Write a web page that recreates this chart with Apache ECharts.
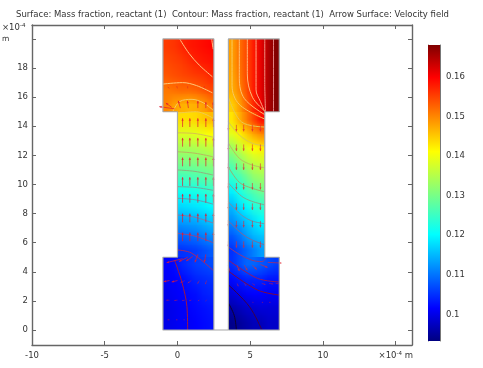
<!DOCTYPE html>
<html><head><meta charset="utf-8">
<style>html,body{margin:0;padding:0;background:#fff}#c{width:483px;height:368px}</style>
<script src="https://cdn.jsdelivr.net/npm/echarts@6/dist/echarts.min.js"></script>
</head><body><div id="c"></div>
<script>
const titleText = 'Surface: Mass fraction, reactant (1)  Contour: Mass fraction, reactant (1)  Arrow Surface: Velocity field';
const xTicks = [-10, -5, 0, 5, 10, 15];
const yTicks = [0, 2, 4, 6, 8, 10, 12, 14, 16, 18, 20];
const barTicks = [0.1, 0.11, 0.12, 0.13, 0.14, 0.15, 0.16];
const barMin = 0.0933, barMax = 0.168;

// Surface values, one row per unit of height, top row first
const leftTop = [
 [.1555,.156,.157,.158,.1585,.159,.1595],
 [.1545,.155,.1555,.1565,.1575,.158,.1585],
 [.1535,.154,.1545,.155,.1555,.156,.157],
 [.151,.1515,.152,.152,.1525,.1535,.1545],
 [.15,.148,.147,.1465,.147,.148,.15]];
const leftChannel = [
 [.1435,.1435,.144,.145,.146],
 [.1385,.1385,.139,.14,.141],
 [.134,.134,.1345,.135,.136],
 [.13,.13,.1305,.131,.132],
 [.1255,.126,.1265,.127,.128],
 [.121,.1215,.122,.123,.124],
 [.1175,.118,.1185,.119,.12],
 [.113,.1135,.114,.115,.116],
 [.109,.1095,.11,.111,.112],
 [.105,.1055,.106,.107,.108]];
const leftBottom = [
 [.1015,.102,.104,.105,.106,.1065,.107],
 [.101,.1015,.102,.103,.104,.1045,.105],
 [.1005,.101,.1015,.102,.1025,.1035,.104],
 [.1,.1005,.101,.1015,.102,.1025,.103],
 [.1,.1005,.101,.101,.1015,.102,.1025]];
const rightTop = [
 [.148,.1515,.1545,.158,.1615,.165,.168],
 [.148,.1515,.1545,.158,.1615,.165,.168],
 [.1475,.151,.1545,.158,.1615,.165,.168],
 [.147,.15,.154,.158,.1615,.165,.168],
 [.1445,.148,.1525,.157,.161,.165,.168]];
const rightChannel = [
 [.143,.147,.151,.155,.159],
 [.139,.142,.145,.148,.15],
 [.133,.136,.139,.141,.142],
 [.128,.131,.134,.136,.137],
 [.124,.126,.129,.132,.133],
 [.119,.122,.125,.127,.129],
 [.115,.118,.12,.123,.124],
 [.112,.114,.116,.118,.12],
 [.108,.11,.113,.115,.116],
 [.105,.107,.109,.111,.113]];
const rightBottom = [
 [.105,.107,.109,.109,.108,.107,.106],
 [.102,.103,.104,.104,.104,.103,.103],
 [.099,.1,.101,.1015,.1015,.101,.101],
 [.096,.097,.098,.0985,.099,.099,.099],
 [.094,.095,.096,.097,.097,.098,.098]];

// Contour lines: [x, y] in units of 1e-4 m, with their colours
const contours = [
 [[.15,20],[.8,19],[1.5,18.2],[2.4,17.4]],
 [[2.35,20],[2.45,19.3]],
 [[-1,16.9],[.35,17],[1.3,16.8],[2.4,16.3]],
 [[-.3,15.05],[.15,15.7],[1,15.85],[1.8,15.6],[2.45,15.1]],
 [[0,14.9],[1.3,15],[2.45,14.55]],
 [[0,13.55],[1.2,13.5],[2.45,13.25]],
 [[0,12.25],[1.2,12.15],[2.45,11.9]],
 [[0,11],[1.2,10.9],[2.45,10.65]],
 [[0,9.85],[1.2,9.8],[2.45,9.6]],
 [[0,9.05],[1.2,8.95],[2.45,8.65]],
 [[0,7.9],[1.2,7.75],[2.45,7.35]],
 [[0,6.65],[1.2,6.45],[2.45,6]],
 [[0,5.5],[.96,5.29],[2.45,4.1]],
 [[-.2,4.8],[.3,3.3],[.65,1.6],[.7,0]],
 [[6.6,20],[6.6,15]],
 [[6,20],[6,17],[6.05,15]],
 [[5.4,20],[5.4,16.5],[5.7,15.7],[6,15]],
 [[4.8,20],[4.8,17.6],[5.15,16],[6,15.05]],
 [[4.25,20],[4.25,17.3],[4.6,15.9],[6,14.8]],
 [[3.75,20],[3.75,16.8],[4.25,15.5],[6,14.5]],
 [[3.5,16],[4.4,14.3],[6,13.95]],
 [[3.5,14.3],[4.25,13.4],[5.1,12.85],[6,12.65]],
 [[3.5,12.85],[4.25,11.8],[5.1,11.35],[6,11.15]],
 [[3.5,11.2],[4.25,10.15],[5.1,9.75],[6,9.5]],
 [[3.5,10.1],[4.4,9.2],[5.1,8.85],[6,8.6]],
 [[3.5,8.8],[4.4,7.9],[5.1,7.5],[6,7.3]],
 [[3.5,7.5],[4.45,6.6],[5.1,6.2],[6,5.85]],
 [[3.5,5.7],[4.25,5.2],[5.1,4.8],[5.8,4.7],[6.1,4.95]],
 [[3.5,4.8],[5.5,3.55],[7,3.3]],
 [[3.5,4.05],[5.5,2.75],[7,2.4]],
 [[3.5,3.1],[4.95,1.6],[5.8,0]],
 [[3.5,1.85],[3.9,1],[4.05,0]]
];
const contourColors = [
 '#ffc080','#ffc080','#ffc878','#f8c860','#f0c850','#d8c050','#b8b860','#90b080','#70a8a0','#6898b0',
 '#8078a8','#904890','#a02870','#a01840',
 '#e08080','#f09080','#ffa880','#ffb878','#ffc070','#f8c860','#e8c850','#d8c850','#b8c060','#98b070',
 '#80a890','#7090a8','#806898','#903880','#981860','#800840','#400040','#100030'
];

// Arrows, as parallel lists: tail x, tail y, x component, y component
const arrowX = [
 .35,.85,1.4,1.95,2.47, .35,.85,1.4,1.95,2.47, .35,.85,1.4,1.95,2.47, .35,.85,1.4,1.95,2.47,
 .35,.85,1.4,1.95,2.47, .35,.85,1.4,1.95,2.47, .35,.85,1.4,1.95,2.47,
 3.5,4.05,4.55,5.15,5.7, 3.5,4.05,4.55,5.15,5.7, 3.5,4.05,4.55,5.15,5.7, 3.5,4.05,4.55,5.15,5.7,
 3.5,4.05,4.55,5.15,5.7, 3.5,4.05,4.55,5.15,5.7, 3.5,4.05,4.55,5.15,5.7,
 -.2,-.4,.2,.75,1.4,1.95,2.45, -.55,0,.7,1.85,
 .35,.7,1.05,1.4,1.95, -.55,0,.5,.95,1.5,2, -.55,0,.5,.95,1.5,2, -.55,0,.5,
 3.5,4.1,4.6,5.15,5.7,6.2, 4.1,4.6,5.15,5.8,6.3,6.75, 5.15,5.8,6.3];
const arrowY = [
 13.95,13.95,13.95,13.95,13.95, 12.6,12.6,12.6,12.6,12.6, 11.25,11.25,11.25,11.25,11.25, 9.9,9.9,9.9,9.9,9.9,
 8.75,8.75,8.75,8.75,8.75, 7.4,7.4,7.4,7.4,7.4, 6.1,6.1,6.1,6.1,6.1,
 14.1,14.1,14.1,14.1,14.1, 12.75,12.75,12.75,12.75,12.75, 11.45,11.45,11.45,11.45,11.45, 10.1,10.1,10.1,10.1,10.1,
 8.7,8.7,8.7,8.7,8.7, 7.5,7.5,7.5,7.5,7.5, 6.1,6.1,6.1,6.1,6.1,
 15.2,15.3,15.25,15.25,15.25,15.25,15.25, 16.6,16.6,16.6,16.6,
 4.9,5,5.05,5.2,5.2, 3.4,3.4,3.4,3.4,3.4,3.4, 2.05,2.05,2.05,2.05,2.05,2.05, .7,.7,.7,
 4.45,4.45,4.45,4.45,4.5,4.65, 3.2,3.2,3.2,3.2,3.2,3.2, 1.9,1.9,1.9];
const arrowU = [
 0,0,0,0,0, 0,0,0,0,0, 0,0,0,0,0, 0,0,0,0,0, 0,0,0,0,0, 0,0,0,0,0, 0,0,0,0,0,
 0,0,0,0,0, 0,0,0,0,0, 0,0,0,0,0, 0,0,0,0,0, 0,0,0,0,0, 0,0,0,0,0, 0,0,0,0,0,
 -1.05,-.4,-.15,-.07,0,0,0, -.12,-.05,0,0,
 -1.1,-.6,-.45,-.2,-.1, -.4,-.4,-.3,-.25,-.12,-.08, -.22,-.22,-.18,-.14,-.1,-.07, -.13,-.1,-.08,
 .05,.15,.2,.3,.5,.95, .08,.12,.16,.25,.28,.2, .07,.09,.09];
const arrowV = [
 .6,.6,.6,.6,.6, .6,.6,.6,.6,.6, .6,.6,.6,.6,.6, .6,.6,.6,.6,.6, .6,.6,.6,.6,.6, .6,.6,.6,.6,.6, .6,.6,.6,.6,.6,
 -.4,-.45,-.45,-.45,-.45, -.4,-.45,-.45,-.45,-.45, -.4,-.45,-.45,-.45,-.45, -.4,-.45,-.45,-.45,-.45,
 -.4,-.45,-.45,-.45,-.45, -.4,-.45,-.45,-.45,-.45, -.4,-.45,-.45,-.45,-.45,
 .15,.3,.5,.5,.5,.42,.4, .1,.15,.15,.15,
 -.27,-.3,-.3,-.55,-.55, -.08,-.1,-.15,-.18,-.22,-.25, 0,-.02,-.03,-.04,-.05,-.06, 0,0,0,
 -.4,-.4,-.35,-.3,-.2,-.05, -.2,-.16,-.12,-.08,-.04,-.02, 0,0,0];

const leftOutline = [[2.5,0],[2.5,20],[-1,20],[-1,15],[0,15],[0,5],[-1,5],[-1,0],[2.5,0],[3.5,0]];
const rightOutline = [[3.5,0],[7,0],[7,5],[6,5],[6,15],[7,15],[7,20],[3.5,20],[3.5,0]];

// Rainbow colour scale: position along the bar, colour
const rainbow = [[0,[0,0,128]],[.11,[0,0,255]],[.36,[0,255,255]],[.64,[255,255,0]],[.89,[255,0,0]],[1,[128,0,0]]];

function rainbowColor(v) {
  const t = Math.max(0, Math.min(1, (v - barMin) / (barMax - barMin)));
  for (let i = 1; i < rainbow.length; i++) {
    if (t <= rainbow[i][0]) {
      const a = rainbow[i-1], b = rainbow[i], f = (t - a[0]) / (b[0] - a[0]);
      return a[1].map((c, k) => Math.round(c + (b[1][k] - c) * f));
    }
  }
  return rainbow[rainbow.length-1][1];
}
function tableCanvas(rows) {
  const cv = document.createElement('canvas');
  cv.width = rows[0].length; cv.height = rows.length;
  const g = cv.getContext('2d');
  rows.forEach((r, j) => r.forEach((v, i) => {
    const c = rainbowColor(v);
    g.fillStyle = 'rgb(' + c.join(',') + ')';
    g.fillRect(i, j, 1, 1);
  }));
  return cv;
}
const blocks = [
  {rows:leftTop,x0:-1,x1:2.5,y0:15,y1:20},{rows:leftChannel,x0:0,x1:2.5,y0:5,y1:15},{rows:leftBottom,x0:-1,x1:2.5,y0:0,y1:5},
  {rows:rightTop,x0:3.5,x1:7,y0:15,y1:20},{rows:rightChannel,x0:3.5,x1:6,y0:5,y1:15},{rows:rightBottom,x0:3.5,x1:7,y0:0,y1:5}
];
blocks.forEach(b => b.canvas = tableCanvas(b.rows));

const axisGray = '#666';
const series = [];
series.push({
  type:'custom', silent:true, z:1, clip:false, xAxisIndex:0, yAxisIndex:0,
  data: blocks.map((b,i) => [b.x0,b.y0,i]),
  encode:{x:0,y:1},
  renderItem(p, api) {
    const b = blocks[p.dataIndex];
    const a = api.coord([b.x0,b.y1]), c = api.coord([b.x1,b.y0]);
    return {type:'image', style:{image:b.canvas, x:a[0], y:a[1], width:c[0]-a[0], height:c[1]-a[1]}};
  }
});
contours.forEach((pts,i) => series.push({
  type:'line', data:pts, smooth:.35, showSymbol:false, silent:true, z:2, clip:false,
  xAxisIndex:0, yAxisIndex:0,
  lineStyle:{color:contourColors[i], width:1, opacity:1}
}));
series.push({
  type:'custom', silent:true, z:3, clip:false, xAxisIndex:0, yAxisIndex:0,
  data: arrowX.map((x,i) => [x,arrowY[i],arrowU[i],arrowV[i]]),
  encode:{x:0,y:1},
  renderItem(p, api) {
    const t = api.coord([api.value(0),api.value(1)]);
    const h = api.coord([api.value(0)+api.value(2),api.value(1)+api.value(3)]);
    const dx = h[0]-t[0], dy = h[1]-t[1], L = Math.hypot(dx,dy) || 1;
    const ux = dx/L, uy = dy/L, s = Math.min(2.4, L*.4);
    const col = L < 5 ? 'rgba(225,30,50,.42)' : (api.value(0) > 3 ? 'rgba(225,40,50,.6)' : 'rgba(225,25,50,.7)');
    return {type:'group', children:[
      {type:'line', shape:{x1:t[0],y1:t[1],x2:h[0],y2:h[1]}, style:{stroke:col, lineWidth:1}},
      {type:'polygon', shape:{points:[h,[h[0]-ux*s-uy*s*.5,h[1]-uy*s+ux*s*.5],[h[0]-ux*s+uy*s*.5,h[1]-uy*s-ux*s*.5]]}, style:{fill:col}}
    ]};
  }
});
[leftOutline,rightOutline].forEach(o => series.push({
  type:'line', data:o, showSymbol:false, silent:true, z:4, clip:false, xAxisIndex:0, yAxisIndex:0,
  lineStyle:{color:'#a8a8a8', width:1.2}
}));
series.push({
  type:'custom', silent:true, z:2, xAxisIndex:1, yAxisIndex:2, clip:false,
  data:[[0,barMin,1,barMax]], encode:{x:0,y:1},
  renderItem(p, api) {
    const a = api.coord([0,barMax]), c = api.coord([1,barMin]);
    return {type:'rect', shape:{x:a[0],y:a[1],width:c[0]-a[0],height:c[1]-a[1]},
      style:{fill:new echarts.graphic.LinearGradient(0,1,0,0,rainbow.map(s=>({offset:s[0],color:'rgb('+s[1].join(',')+')'})))}};
  }
});

const mainLine = {show:true, onZero:false, lineStyle:{color:axisGray, width:1.4}};
const mainTick = {show:true, inside:true, length:4, lineStyle:{color:axisGray, width:1}};
const labelBase = {color:'#333', fontFamily:'DejaVu Sans', fontSize:8.5};
const barLine = {show:true, onZero:false, lineStyle:{color:'#777', width:1}};
const barTick = {show:true, inside:true, length:3, customValues:barTicks, lineStyle:{color:'#333', width:1}};

const chart = echarts.init(document.getElementById('c'), null, {renderer:'canvas'});
chart.setOption({
  animation:false, backgroundColor:'#fff',
  grid:[{left:32,top:25,width:380,height:320},{left:428,top:45,width:12,height:296}],
  xAxis:[
    {type:'value', gridIndex:0, position:'bottom', min:-10, max:16.12, splitLine:{show:false}, axisLine:mainLine,
     axisTick:{...mainTick, customValues:xTicks},
     axisLabel:{...labelBase, margin:6, customValues:xTicks,
       formatter:v => v===15 ? '×10{s|-4} m' : String(v),
       rich:{s:{fontSize:5.5, verticalAlign:'top', color:'#333', fontFamily:'DejaVu Sans', padding:[0,0,3,0]}}}},
    {type:'value', gridIndex:1, min:0, max:1, show:false},
    {type:'value', gridIndex:0, position:'top', min:-10, max:16.12, splitLine:{show:false}, axisLine:mainLine,
     axisTick:{...mainTick, customValues:xTicks}, axisLabel:{show:false}}
  ],
  yAxis:[
    {type:'value', gridIndex:0, position:'left', min:-1.03, max:20.96, splitLine:{show:false}, axisLine:mainLine,
     axisTick:{...mainTick, customValues:yTicks},
     axisLabel:{...labelBase, margin:4, customValues:yTicks, formatter:v => v===20 ? '' : String(v)}},
    {type:'value', gridIndex:0, position:'right', min:-1.03, max:20.96, splitLine:{show:false}, axisLine:mainLine,
     axisTick:{...mainTick, customValues:yTicks}, axisLabel:{show:false}},
    {type:'value', gridIndex:1, position:'right', min:barMin, max:barMax, splitLine:{show:false}, axisLine:barLine,
     axisTick:barTick,
     axisLabel:{...labelBase, margin:6, customValues:barTicks, formatter:v => String(v)}},
    {type:'value', gridIndex:1, position:'left', min:barMin, max:barMax, splitLine:{show:false}, axisLine:barLine,
     axisTick:barTick, axisLabel:{show:false}}
  ],
  graphic:[
    {type:'text', left:16, top:10, silent:true, style:{text:titleText, fill:'#333', font:'8.5px "DejaVu Sans"'}},
    {type:'text', left:2, top:23, silent:true, style:{
      text:'×10{s|-4}', fill:'#333', font:'8.5px "DejaVu Sans"',
      rich:{s:{fontSize:5.5, verticalAlign:'top', fill:'#333', fontFamily:'DejaVu Sans', padding:[0,0,3,0]}}}},
    {type:'text', left:2, top:35, silent:true, style:{text:'m', fill:'#333', font:'7.5px "DejaVu Sans"'}}
  ],
  series
});
</script></body></html>
